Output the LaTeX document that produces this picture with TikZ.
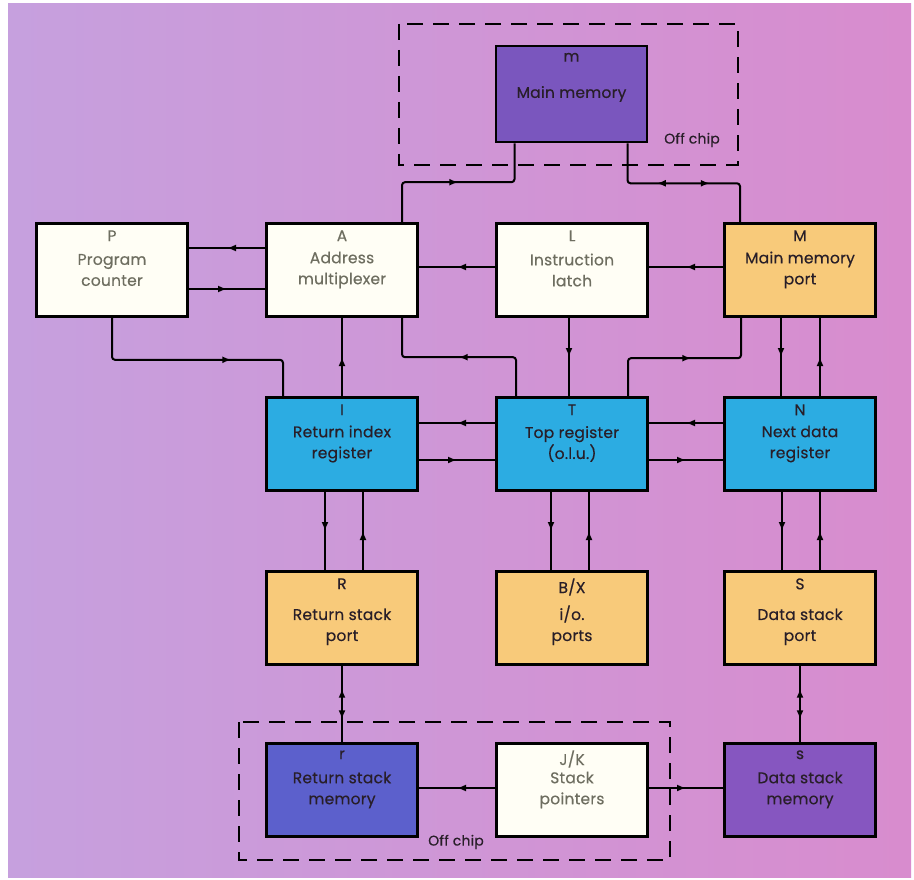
\documentclass[tikz,border=0pt]{standalone}
\usepackage{fontspec}
\setmainfont{Poppins}[LetterSpace=1.5,FakeBold=0.4]
\usetikzlibrary{arrows.meta,decorations.markings}

\definecolor{bglilac}{RGB}{198,160,222}
\definecolor{bgpink}{RGB}{216,140,206}
\definecolor{portorange}{RGB}{248,202,122}
\definecolor{regblue}{RGB}{44,172,226}
\definecolor{mempurple}{RGB}{122,86,190}
\definecolor{retblue}{RGB}{92,96,204}
\definecolor{datapurple}{RGB}{134,86,192}
\definecolor{greytext}{RGB}{110,110,96}
\definecolor{darktext}{RGB}{40,30,40}

\begin{document}
\begin{tikzpicture}[x=1pt,y=-1pt,
    boxfont/.style={font=\fontsize{15.5}{21}\selectfont},
    unit/.style={draw=black,line width=2.6pt,minimum width=151pt,minimum height=93pt,
        align=center,inner sep=0pt,boxfont},
    tag/.style={anchor=north,yshift=-8pt,inner sep=0pt,boxfont},
    whitebox/.style={unit,fill=white!96!yellow,text=greytext,label={[tag,text=greytext]north:#1}},
    portbox/.style={unit,fill=portorange,text=darktext,label={[tag,text=darktext]north:#1}},
    regbox/.style={unit,fill=regblue,text=darktext,label={[tag,text=darktext]north:#1}},
    membox/.style 2 args={unit,fill=#1,text=darktext,label={[tag,text=darktext]north:#2}},
    link/.style={line width=2pt,rounded corners=3pt},
    offchip/.style={line width=2.6pt,dash pattern=on 16pt off 10pt},
    flow/.style={postaction={decorate},decoration={markings,
        mark=at position #1 with {\arrow{Latex[length=9pt,width=7pt]}}}},
    bothflow/.style 2 args={postaction={decorate},decoration={markings,
        mark=at position #1 with {\arrowreversed{Latex[length=9pt,width=7pt]}},
        mark=at position #2 with {\arrow{Latex[length=9pt,width=7pt]}}}}]

    \useasboundingbox (0,0) rectangle (914,880);
    \fill[white] (0,0) rectangle (914,880);
    \shade[left color=bglilac,right color=bgpink] (8,4) rectangle (911,877);

    % off chip areas
    \draw[offchip] (399,24) rectangle (738,165);
    \draw[offchip] (239,722) rectangle (670,860);
    \node[font=\fontsize{14}{16}\selectfont,text=darktext] (offtop) at (692,140) {Off chip};
    \node[font=\fontsize{14}{16}\selectfont,text=darktext] (offbot) at (456,842) {Off chip};

    \node[membox={mempurple}{m},minimum height=96pt] (m) at (571.5,94) {Main memory};

    \node[whitebox=P] (P) at (112,270) {Program\\counter};
    \node[whitebox=A] (A) at (342,270) {Address\\multiplexer};
    \node[whitebox=L] (L) at (572,270) {Instruction\\latch};
    \node[portbox=M] (M) at (800,270) {Main memory\\port};

    \node[regbox=I] (I) at (342,444) {Return index\\register};
    \node[regbox=T] (T) at (572,444) {Top register\\(o.l.u.)};
    \node[regbox=N] (N) at (800,444) {Next data\\register};

    \node[portbox=R] (R) at (342,618) {\\[8pt]Return stack\\port};
    \node[portbox=B/X] (BX) at (572,618) {\\[8pt]i/o.\\ports};
    \node[portbox=S] (S) at (800,618) {\\[8pt]Data stack\\port};

    \node[membox={retblue}{r}] (r) at (342,790) {Return stack\\memory};
    \node[whitebox=J/K] (JK) at (572,790) {Stack\\pointers};
    \node[membox={datapurple}{s}] (s) at (800,790) {Data stack\\memory};

    % main memory bus
    \draw[link,flow=95pt] ([xshift=60pt]A.north) -- ++(0,-40) -| ([xshift=-57pt]m.south);
    \draw[link,bothflow={68pt}{121pt}] ([xshift=56pt]m.south) -- ++(0,40) -| ([xshift=-60pt]M.north);

    \draw[link,flow=0.5] ([yshift=22pt]A.west) -- ([yshift=22pt]P.east);
    \draw[link,flow=0.5] ([yshift=-19pt]P.east) -- ([yshift=-19pt]A.west);
    \draw[link,flow=0.5] ([yshift=3pt]L.west) -- ([yshift=3pt]A.east);
    \draw[link,flow=0.5] ([yshift=3pt]M.west) -- ([yshift=3pt]L.east);

    \draw[link,flow=160pt] (P.south) -- ++(0,42) -| ([xshift=-59pt]I.north);
    \draw[link,flow=0.5] (I.north) -- (A.south);
    \draw[link,flow=95pt] ([xshift=-56pt]T.north) -- ++(0,-39) -| ([xshift=60pt]A.south);
    \draw[link,flow=0.5] ([xshift=-3pt]L.south) -- ([xshift=-3pt]T.north);
    \draw[link,flow=100pt] ([xshift=56pt]T.north) -- ++(0,-38) -| ([xshift=-59pt]M.south);
    \draw[link,flow=0.5] ([xshift=-19pt]M.south) -- ([xshift=-19pt]N.north);
    \draw[link,flow=0.5] ([xshift=20pt]N.north) -- ([xshift=20pt]M.south);

    % register row
    \draw[link,flow=0.5] ([yshift=21pt]T.west) -- ([yshift=21pt]I.east);
    \draw[link,flow=0.5] ([yshift=-16pt]I.east) -- ([yshift=-16pt]T.west);
    \draw[link,flow=0.5] ([yshift=21pt]N.west) -- ([yshift=21pt]T.east);
    \draw[link,flow=0.5] ([yshift=-16pt]T.east) -- ([yshift=-16pt]N.west);

    \draw[link,flow=0.5] ([xshift=-17pt]I.south) -- ([xshift=-17pt]R.north);
    \draw[link,flow=0.5] ([xshift=21pt]R.north) -- ([xshift=21pt]I.south);
    \draw[link,flow=0.5] ([xshift=-21pt]T.south) -- ([xshift=-21pt]BX.north);
    \draw[link,flow=0.5] ([xshift=17pt]BX.north) -- ([xshift=17pt]T.south);
    \draw[link,flow=0.5] ([xshift=-18pt]N.south) -- ([xshift=-18pt]S.north);
    \draw[link,flow=0.5] ([xshift=20pt]S.north) -- ([xshift=20pt]N.south);

    % stacks
    \draw[link,bothflow={0.3}{0.7}] (R.south) -- (r.north);
    \draw[link,bothflow={0.3}{0.7}] (S.south) -- (s.north);
    \draw[link,flow=0.5] ([yshift=2pt]JK.west) -- ([yshift=2pt]r.east);
    \draw[link,flow=0.5] ([yshift=2pt]JK.east) -- ([yshift=2pt]s.west);
\end{tikzpicture}
\end{document}
